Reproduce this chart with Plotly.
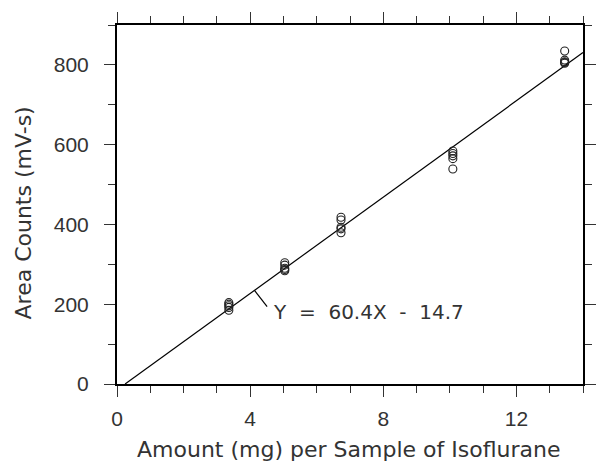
import plotly.graph_objects as go

# Replicate injections at each isoflurane amount (mg) and their peak areas (mV-s)
amount_mg = [3.36] * 5 + [5.04] * 5 + [6.73] * 5 + [10.09] * 5 + [13.45] * 5
area_counts = [
    204, 200, 196, 192, 185,
    304, 298, 290, 287, 284,
    418, 411, 393, 389, 379,
    584, 578, 572, 565, 539,
    835, 812, 808, 806, 804,
]

# Least-squares calibration line
slope = 60.4
intercept = -14.7
x_range = [0, 14]
y_range = [0, 900]
x_ticks = [0, 4, 8, 12]
y_ticks = [0, 200, 400, 600, 800]
equation_text = "Y\u00a0\u00a0=\u00a0\u00a060.4X\u00a0\u00a0-\u00a0\u00a014.7"
x_title = "Amount (mg) per Sample of Isoflurane"
y_title = "Area Counts (mV-s)"

TEXT_COLOR = "#333333"
TITLE_FONT = dict(family="DejaVu Sans", size=22, color=TEXT_COLOR)
TICK_FONT = dict(family="Liberation Sans", size=21, color=TEXT_COLOR)
EQ_FONT = dict(family="DejaVu Sans", size=20, color=TEXT_COLOR)

# Fitted line drawn from its x-intercept to the right edge of the axis
x_start = -intercept / slope
x_end = x_range[1]
line_x = [x_start, x_end]
line_y = [slope * x + intercept for x in line_x]

fig = go.Figure()
fig.add_trace(go.Scatter(
    x=line_x, y=line_y, mode="lines",
    line=dict(color="black", width=1.2),
    showlegend=False, hoverinfo="skip",
))
fig.add_trace(go.Scatter(
    x=amount_mg, y=area_counts, mode="markers",
    marker=dict(symbol="circle-open", size=8, color="#222222",
                line=dict(width=1.1, color="#222222")),
    showlegend=False,
))

# Leader from the line to the equation label
lead_x0 = 4.13
lead_y0 = slope * lead_x0 + intercept
fig.add_shape(type="line", xref="x", yref="y",
              x0=lead_x0, y0=lead_y0, x1=4.51, y1=194,
              line=dict(color="black", width=1.2))
fig.add_annotation(x=4.63, y=180, xref="x", yref="y", text=equation_text,
                   showarrow=False, xanchor="left", yanchor="middle",
                   font=EQ_FONT)

axis_common = dict(
    showline=True, linecolor="black", linewidth=2,
    mirror="allticks", ticks="outside", ticklen=11, tickwidth=1.3,
    tickcolor="#333333", showgrid=False, zeroline=False,
    tickfont=TICK_FONT,
)

fig.update_xaxes(range=x_range, tickvals=x_ticks, ticklabelstandoff=4,
                 minor=dict(ticks="outside", ticklen=7, tickwidth=1.3,
                            tickcolor="#333333", dtick=1, showgrid=False),
                 **axis_common)
fig.update_yaxes(range=y_range, tickvals=y_ticks, ticklabelstandoff=11,
                 minor=dict(ticks="outside", ticklen=7, tickwidth=1.3,
                            tickcolor="#333333", dtick=100, showgrid=False),
                 **axis_common)

fig.add_annotation(text=x_title, xref="paper", yref="paper", x=0.497, y=0,
                   yshift=-65, showarrow=False, xanchor="center",
                   yanchor="middle", font=TITLE_FONT)
fig.add_annotation(text=y_title, xref="paper", yref="paper", x=0, y=0.475,
                   xshift=-94, showarrow=False, xanchor="center",
                   yanchor="middle", textangle=-90, font=TITLE_FONT)

fig.update_layout(
    width=608, height=468,
    margin=dict(l=117, r=25, t=23, b=84),
    paper_bgcolor="white", plot_bgcolor="white",
)

fig.write_html("out.html")
